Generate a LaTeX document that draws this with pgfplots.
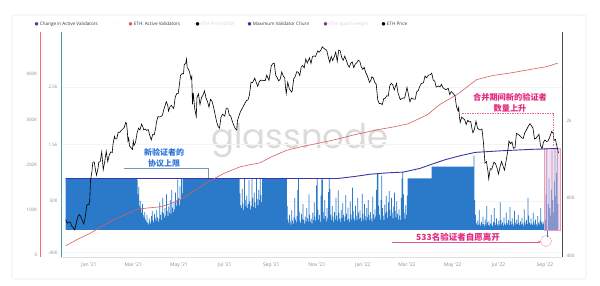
\documentclass[border=0pt]{standalone}
\usepackage{fontspec}
\setmainfont{Open Sans}
\newfontfamily\cjk{Noto Sans CJK SC}
\newfontfamily\wm{Poppins}
\newfontfamily\dv{DejaVu Sans}
\usepackage{pgfplots}
\pgfplotsset{compat=1.18}
\usetikzlibrary{arrows.meta}
\definecolor{barblue}{HTML}{2B79C9}
\definecolor{valred}{HTML}{D4605F}
\definecolor{churn}{HTML}{3A36A6}
\definecolor{redaxis}{HTML}{EE6F7E}
\definecolor{tealaxis}{HTML}{4C9AA6}
\definecolor{ticktxt}{HTML}{8C8C8C}
\definecolor{annblue}{HTML}{2A74D9}
\definecolor{annmag}{HTML}{E3287A}
\definecolor{pinkfill}{HTML}{F5B8D2}
\definecolor{lgone}{HTML}{34507C}
\definecolor{lgpurple}{HTML}{7A3A8C}
\pgfplotsset{
  base/.style={at={(61pt,29pt)}, anchor=south west, width=501pt, height=224.5pt, scale only axis,
    xmin=-6.33, xmax=661.7, major tick length=0pt, minor tick length=0pt, tick style={draw=none},
    scaled ticks=false,
    tick label style={font=\fontsize{4.6}{5}\selectfont, text=ticktxt}},
}
\begin{document}
\begin{tikzpicture}[x=1pt,y=1pt]
\path[use as bounding box] (0,0) rectangle (600,286);
\draw[gray!18, line width=0.6pt, rounded corners=3pt] (12,7) rectangle (586,271);
% watermark
\node[anchor=base, text=black!14, font=\wm\fontsize{34}{34}\selectfont, inner sep=0] at (300,137) {glassnode};

% ---------- Axis A: change in active validators + max churn ----------
\begin{axis}[base,
  ymin=-477, ymax=3461,
  axis x line*=bottom, axis y line*=left,
  x axis line style={-, draw=gray!25, line width=0.5pt},
  y axis line style={-, draw=none},
  xtick={31,90,151,212,274,335,396,455,516,577,639},
  xticklabels={Jan '21,Mar '21,May '21,Jul '21,Sep '21,Nov '21,Jan '22,Mar '22,May '22,Jul '22,Sep '22},
  xticklabel style={font=\fontsize{5}{6}\selectfont, yshift=-2pt},
  ytick={-400,500,1500,2500}, yticklabels={-400,500,1.5k,2.5k},
  ymajorgrids, grid style={gray!9, line width=0.4pt},
]
\addplot[ybar interval, fill=barblue, draw=none] coordinates {
(0,900)
(95,880) (96,620) (97,750) (98,420) (99,510) (100,380) (101,300) (102,450) (103,260) (104,220)
(105,310) (106,180) (107,140) (108,260) (109,120) (110,90) (111,200) (112,150) (113,110) (114,240)
(115,330) (116,170) (117,130) (118,280) (119,210) (120,160) (121,350) (122,220) (123,140) (124,190)
(125,480) (126,260) (127,170) (128,310) (129,560) (130,290) (131,210) (132,380) (133,250) (134,620)
(135,330) (136,240) (137,410) (138,300) (139,520) (140,280) (141,700) (142,390) (143,310) (144,480)
(145,360) (146,650) (147,420) (148,520) (149,880) (150,560) (151,430) (152,760) (153,520) (154,900)
(155,640)
(156,900)
(232,640) (233,430) (234,380) (235,720) (236,460) (237,350) (238,900) (239,520) (240,410) (241,600)
(242,380) (243,450) (244,870) (245,500) (246,360) (247,420) (248,900) (249,560) (250,400) (251,650)
(252,480) (253,380) (254,900) (255,540) (256,430) (257,700) (258,520) (259,900) (260,610) (261,480)
(262,900)
(295,420) (296,180) (297,120) (298,260) (299,150) (300,90) (301,340) (302,160) (303,110) (304,220)
(305,560) (306,180) (307,130) (308,240) (309,700) (310,900) (311,320) (312,160) (313,120) (314,280)
(315,190) (316,450) (317,170) (318,110) (319,230) (320,140) (321,380) (322,200) (323,150) (324,620)
(325,260) (326,140) (327,190) (328,110) (329,300) (330,170) (331,480) (332,230) (333,160) (334,780)
(335,900) (336,350) (337,180) (338,260) (339,140) (340,600) (341,900) (342,880) (343,310) (344,190)
(345,520) (346,240) (347,150) (348,380) (349,200) (350,660) (351,900) (352,720) (353,260) (354,170)
(355,420) (356,230) (357,140) (358,310) (359,180) (360,560) (361,250) (362,160) (363,690) (364,300)
(365,190) (366,140) (367,350) (368,210) (369,470) (370,260) (371,150) (372,230) (373,610) (374,280)
(375,170) (376,390) (377,190) (378,140) (379,500) (380,270) (381,180) (382,740) (383,330) (384,200)
(385,160) (386,420) (387,250) (388,170) (389,560) (390,300) (391,190) (392,340) (393,210) (394,150)
(395,630) (396,280) (397,180) (398,450) (399,240) (400,160) (401,380) (402,220) (403,520) (404,260)
(405,170) (406,310) (407,200) (408,150) (409,580) (410,270) (411,190) (412,360) (413,230) (414,700)
(415,980) (416,1000) (417,420) (418,260) (419,180) (420,520) (421,950) (422,380) (423,250) (424,170)
(425,440) (426,290) (427,600) (428,320) (429,210) (430,480) (431,680) (432,350) (433,240) (434,560)
(435,300) (436,200) (437,410) (438,650) (439,330) (440,220) (441,500) (442,280) (443,180) (444,360)
(445,250) (446,170) (447,560) (448,900) (449,1010) (450,620) (451,300) (452,190) (453,430) (454,260)
(455,600)
(456,900)
(488,1110)
(544,1300)
(545,520) (546,260) (547,120) (548,90) (549,160) (550,80) (551,350) (552,110) (553,70) (554,140)
(555,90) (556,230) (557,100) (558,60) (559,180) (560,90) (561,420) (562,130) (563,80) (564,150)
(565,70) (566,110) (567,260) (568,90) (569,60) (570,140) (571,380) (572,120) (573,80) (574,200)
(575,100) (576,70) (577,160) (578,90) (579,480) (580,170) (581,90) (582,130) (583,70) (584,220)
(585,110) (586,80) (587,300) (588,120) (589,90) (590,170) (591,80) (592,400) (593,150) (594,90)
(595,200) (596,110) (597,70) (598,330) (599,130) (600,90) (601,180) (602,100) (603,260) (604,120)
(605,80) (606,150) (607,90) (608,210) (609,110) (610,70) (611,360) (612,140) (613,90) (614,170)
(615,100) (616,560) (617,250) (618,120) (619,90) (620,200) (621,110) (622,80) (623,300) (624,140)
(625,90) (626,180) (627,100) (628,70) (629,240) (630,120) (631,90) (632,160) (633,380) (634,130)
(635,90) (636,150) (637,110)
(638,300) (639,180) (640,620) (641,1410) (642,-130) (643,450) (644,900) (645,380) (646,250) (647,700)
(648,1390) (649,520) (650,300) (651,850) (652,1420) (653,600) (654,1000) (655,1380) (656,450) (657,450)
};
\fill[pinkfill, fill opacity=0.45] (axis cs:637.7,0) rectangle (axis cs:659,1435);
\draw[pinkfill!80!annmag, line width=0.4pt] (axis cs:637.7,0) rectangle (axis cs:659,1435);
\addplot[churn, line width=0.9pt] coordinates {
(0,900) (363,900) (385,935) (406,975) (430,1000) (450,1012) (472,1076) (488,1150)
(506,1230) (526,1300) (546,1358) (579,1385) (619,1410) (656,1427)
};
\end{axis}

% ---------- Axis B: ETH active validators ----------
\begin{axis}[base, ymin=-3800, ymax=491800,
  axis x line=none, axis y line*=left, y axis line style={draw=none},
  ytick={0,100000,200000,300000,400000}, yticklabels={0,100K,200K,300K,400K},
  yticklabel style={xshift=-20.3pt}]
\addplot[valred, line width=0.6pt] coordinates {
(0,21000) (19,38000) (31,47000) (50,66000) (72,84500) (96,102000) (110,104500) (126,107000)
(140,114000) (156,126000) (172,143000) (190,162000) (210,180000) (232,195000) (246,200000)
(259,204000) (275,218000) (295,232000) (318,241000) (339,248000) (356,254000) (385,266000)
(415,277000) (436,283000) (456,290000) (482,310000) (499,333000) (522,355000) (548,388000)
(570,397000) (595,403000) (615,409000) (640,416000) (656,424000)
};
\end{axis}

% ---------- Axis C: ETH price (log) ----------
\begin{axis}[base, ymode=log, ymin=395, ymax=5710,
  axis x line=none, axis y line*=right, y axis line style={-, draw=black!70, line width=0.8pt},
  ytick={400,800,2000}, yticklabels={400,800,2k},
  yticklabel style={anchor=west, xshift=1pt}]
\addplot[black, line width=0.6pt] coordinates {
(0,615) (2,590) (4,600) (6,598) (8,570) (10,560) (12,545) (14,590) (16,635) (18,655) (20,640)
(22,610) (24,585) (26,635) (28,730) (30,740) (31,737) (32,775) (33,975) (34,1040) (35,1100)
(36,1210) (37,1225) (38,1225) (40,1090) (41,1045) (43,1130) (44,1220) (46,1230) (48,1380)
(50,1115) (52,1230) (54,1390) (56,1230) (58,1330) (60,1380) (62,1370) (63,1510) (65,1660)
(66,1610) (68,1610) (70,1745) (72,1740) (74,1780) (76,1810) (78,1845) (80,1960) (81,1935)
(82,1780) (83,1570) (84,1625) (85,1480) (87,1450) (89,1420) (90,1570) (91,1490) (93,1540)
(95,1720) (97,1830) (99,1790) (101,1920) (103,1850) (104,1790) (106,1810) (108,1780) (110,1800)
(112,1680) (114,1590) (116,1700) (118,1690) (120,1840) (121,1970) (123,2100) (125,2090)
(127,2100) (129,2140) (131,2300) (133,2430) (134,2510) (136,2400) (137,2240) (139,2360)
(141,2400) (142,2360) (144,2310) (146,2650) (148,2760) (150,2770) (151,2950) (153,3430)
(155,3500) (157,3490) (158,3900) (160,3950) (161,4170) (162,3750) (163,3720) (165,3580)
(167,3280) (168,3380) (169,2430) (170,2780) (172,2300) (174,2100) (175,2640) (177,2750)
(179,2420) (181,2630) (183,2710) (185,2850) (187,2620) (189,2510) (191,2350) (193,2580)
(195,2520) (197,2360) (199,2160) (201,1990) (203,1870) (205,1830) (207,2080) (209,2160)
(212,2110) (214,2320) (216,2320) (218,2140) (220,2110) (222,1990) (224,1890) (226,1820)
(228,1790) (229,2000) (231,2120) (233,2230) (235,2300) (237,2380) (239,2460) (241,2540)
(243,2560) (245,2720) (247,3160) (249,3140) (252,3320) (254,3150) (256,3010) (258,3180)
(260,3240) (263,3230) (266,3220) (268,3440) (271,3230) (274,3830) (276,3940) (278,3960)
(280,3430) (282,3330) (284,3210) (286,3280) (288,3570) (290,3400) (292,3330) (293,2980)
(294,2760) (296,3160) (298,2930) (301,2810) (302,2850) (304,3300) (306,3380) (308,3580)
(310,3560) (312,3420) (314,3790) (316,3850) (318,3750) (320,4170) (322,3970) (325,4220)
(327,3950) (329,4290) (331,4320) (333,4290) (336,4590) (338,4520) (340,4620) (342,4810)
(344,4730) (346,4670) (348,4620) (350,4270) (352,4000) (354,4300) (356,4090) (358,4270)
(360,4520) (362,4050) (364,4630) (366,4590) (368,4230) (370,4100) (372,4310) (374,4110)
(376,3900) (378,3780) (380,3960) (382,4020) (384,3760) (386,3920) (388,3980) (390,4100)
(392,4060) (394,3800) (396,3680) (398,3770) (400,3540) (402,3420) (405,3150) (407,3240)
(408,3370) (410,3330) (412,3160) (414,3080) (416,2560) (418,2450) (420,2460) (422,2420)
(424,2600) (426,2610) (428,2690) (430,2680) (432,3020) (434,3120) (436,3070) (438,2880)
(441,3120) (443,2790) (446,2570) (448,2600) (450,2620) (452,2620) (455,2970) (457,2720)
(459,2500) (461,2620) (463,2590) (466,2580) (468,2820) (470,2860) (472,3000) (474,3110)
(477,3140) (479,3400) (481,3330) (484,3450) (486,3450) (488,3520) (490,3240) (492,3200)
(494,2980) (497,3020) (499,2990) (501,3080) (503,2960) (505,2920) (507,2890) (510,2940)
(512,2730) (514,2830) (516,2780) (519,2690) (521,2360) (523,2250) (524,2340) (525,2070)
(526,1960) (528,2090) (530,2050) (532,2020) (534,1910) (536,2010) (538,1970) (540,1980)
(542,1790) (543,1730) (545,1810) (547,1990) (549,1830) (551,1800) (553,1790) (555,1810)
(557,1530) (559,1210) (561,1230) (563,1090) (564,1000) (566,1130) (568,1120) (571,1220)
(573,1200) (575,1140) (577,1060) (579,1150) (581,1230) (583,1170) (585,1110) (587,1230)
(589,1360) (591,1570) (593,1520) (595,1550) (597,1440) (599,1450) (601,1720) (603,1700)
(605,1680) (608,1630) (610,1620) (612,1730) (614,1780) (617,1880) (619,1930) (621,1880)
(623,1830) (625,1610) (627,1620) (629,1660) (631,1700) (633,1490) (635,1430) (637,1550)
(639,1590) (641,1560) (643,1570) (645,1630) (648,1760) (650,1720) (651,1580) (653,1600)
(655,1470) (657,1360)
};
\end{axis}
\draw[redaxis, line width=0.9pt] (40.7,29) -- (40.7,253.5);
\draw[tealaxis, line width=1pt] (61,29) -- (61,253.5);

% ---------- legend ----------
\node[anchor=west, inner sep=0, font=\fontsize{4.6}{5}\selectfont, text=black!80] at (34.5,262) {%
\makebox[82pt][l]{{\dv\textcolor{lgone}{●}}\hspace{1.2pt}Change in Active Validators}%
\makebox[12pt][l]{\textcolor{gray!50}{-}}%
\makebox[67pt][l]{{\dv\textcolor{valred}{●}}\hspace{1.2pt}ETH: Active Validators}%
\makebox[52pt][l]{{\dv\textcolor{black}{●}}\hspace{1.2pt}\textcolor{gray!35}{ETH Price (USD)}}%
\makebox[76pt][l]{{\dv\textcolor{churn}{●}}\hspace{1.2pt}Maximum Validator Churn}%
\makebox[58pt][l]{{\dv\textcolor{lgpurple}{●}}\hspace{1.2pt}\textcolor{gray!35}{ETH: Epoch Height}}%
\makebox[30pt][l]{{\dv\textcolor{black}{●}}\hspace{1.2pt}ETH Price}};

% ---------- annotations ----------
\node[align=center, text=annblue, font=\cjk\bfseries\fontsize{8}{10.5}\selectfont, inner sep=0] at (164,128) {新验证者的\\协议上限};
\draw[annblue!45!gray!80, line width=0.6pt] (124,118) -- (208,118) -- (208,108);

\node[align=center, text=annmag, font=\cjk\bfseries\fontsize{8.2}{10.5}\selectfont, inner sep=0] at (510,183) {合并期间新的验证者\\数量上升};
\draw[annmag!70, line width=0.5pt, dash pattern=on 1.5pt off 1pt] (462,173) -- (553,173) -- (553,139);

\node[text=annmag, font=\cjk\bfseries\fontsize{8.5}{10}\selectfont, inner sep=0] at (458,49) {533名验证者自愿离开};
\draw[annmag!80, line width=0.6pt, -{Stealth[length=3pt,width=2.5pt]}] (392,44) -- (541,44);
\draw[annmag!70, line width=0.5pt, dash pattern=on 1pt off 0.8pt] (546,45) circle (5.5);
\end{tikzpicture}
\end{document}
